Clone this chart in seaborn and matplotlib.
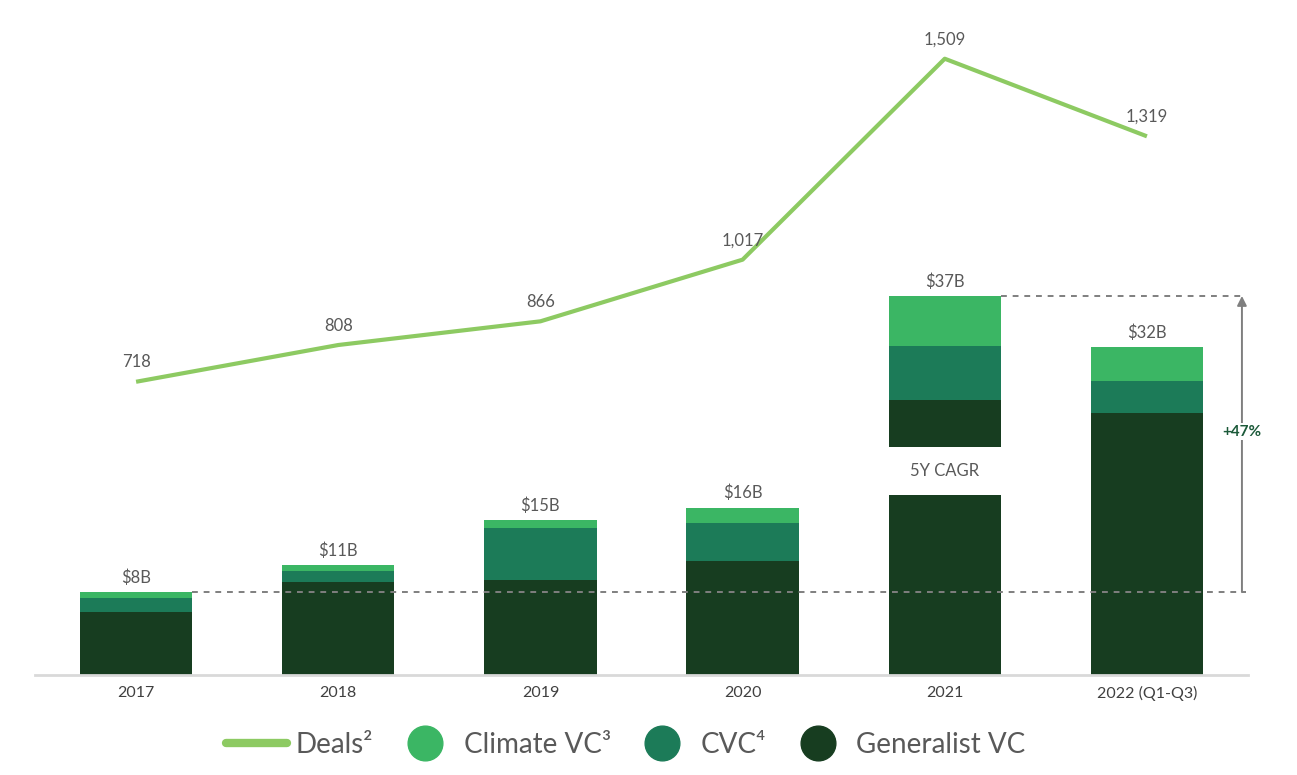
import numpy as np
import pandas as pd
import matplotlib
matplotlib.use("Agg")
import matplotlib.pyplot as plt
from matplotlib.lines import Line2D
import seaborn as sns

# Dados (em $B)
anos = ["2017", "2018", "2019", "2020", "2021", "2022 (Q1-Q3)"]
generalist_vc = [6.1, 9.0, 9.2, 11.1, 26.7, 25.4]
cvc = [1.35, 1.07, 5.05, 3.7, 5.25, 3.1]
climate_vc = [0.6, 0.6, 0.8, 1.45, 4.85, 3.3]
rotulos_total = ["$8B", "$11B", "$15B", "$16B", "$37B", "$32B"]
deals = [718, 808, 866, 1017, 1509, 1319]
rotulos_deals = ["718", "808", "866", "1,017", "1,509", "1,319"]
cagr_texto = "+47%"
# faixa branca no meio da barra de 2021 ($B)
gap_2021 = (17.5, 22.1)

cor_climate = "#3bb664"
cor_cvc = "#1c7b58"
cor_generalist = "#173d20"
cor_deals = "#8dca62"
cor_texto = "#595959"

sns.set_style("white")
plt.rcParams["font.family"] = ["Lato", "DejaVu Sans"]

df = pd.DataFrame({"ano": anos, "gen": generalist_vc, "cvc": cvc, "climate": climate_vc})
df["gen_cvc"] = df["gen"] + df["cvc"]
df["total"] = df["gen_cvc"] + df["climate"]

fig = plt.figure(figsize=(12.97, 7.75), dpi=100)
ax = fig.add_axes([35 / 1297, 100 / 775, (1248 - 35) / 1297, 655 / 775])

largura = 0.555
sns.barplot(data=df, x="ano", y="total", color=cor_climate, width=largura, ax=ax, saturation=1)
sns.barplot(data=df, x="ano", y="gen_cvc", color=cor_cvc, width=largura, ax=ax, saturation=1)
sns.barplot(data=df, x="ano", y="gen", color=cor_generalist, width=largura, ax=ax, saturation=1)
for p in ax.patches:
    p.set_linewidth(0)

ax.set_xlim(-0.5, 5.5)
ax.set_ylim(0, 655 / 10.3)

# faixa branca + "5Y CAGR"
i21 = anos.index("2021")
ax.bar(i21, gap_2021[1] - gap_2021[0], bottom=gap_2021[0], width=largura + 0.02,
       color="white", linewidth=0, zorder=3)
ax.text(i21, sum(gap_2021) / 2, "5Y CAGR", ha="center", va="center",
        fontsize=12, color=cor_texto, zorder=4)

# rótulos dos totais
for i, (t, r) in enumerate(zip(df["total"], rotulos_total)):
    ax.text(i, t + 0.6, r, ha="center", va="bottom", fontsize=12, color=cor_texto)

# linhas tracejadas e seta do CAGR
x_fim = 5.49
ax.hlines(df["total"][0], 0 + largura / 2, x_fim, colors="#7f7f7f", linestyles=(0, (3, 3)), lw=1.4)
ax.hlines(df["total"][i21], i21 + largura / 2, x_fim, colors="#7f7f7f", linestyles=(0, (3, 3)), lw=1.4)
x_seta = 5.47
ax.annotate("", xy=(x_seta, df["total"][i21]), xytext=(x_seta, df["total"][0]),
            arrowprops=dict(arrowstyle="-|>", color="#7f7f7f", lw=1.4, mutation_scale=14,
                            shrinkA=0, shrinkB=0))
ax.text(x_seta, (df["total"][0] + df["total"][i21]) / 2 + 1.2, cagr_texto, ha="center", va="center",
        fontsize=11, color="#1c5a3a", fontweight="bold",
        bbox=dict(facecolor="white", edgecolor="none", pad=1))

# linha de deals (eixo secundário)
ax2 = ax.twinx()
sns.lineplot(x=np.arange(len(anos)), y=deals, color=cor_deals, lw=3.0, ax=ax2,
             solid_capstyle="butt")
ax2.set_ylim(0, 655 / 0.4084)
for i, (v, r) in enumerate(zip(deals, rotulos_deals)):
    ax2.text(i, v + 28, r, ha="center", va="bottom", fontsize=12, color=cor_texto)

for a in (ax, ax2):
    for s in ["top", "right", "left"]:
        a.spines[s].set_visible(False)
    a.set_yticks([])
    a.set_ylabel("")
ax.spines["bottom"].set_color("#d9d9d9")
ax.spines["bottom"].set_linewidth(2)
ax2.spines["bottom"].set_visible(False)
ax.set_xlabel("")
ax.tick_params(axis="x", length=0, pad=8, labelsize=11.5, labelcolor="#404040")

# legenda
handles = [
    Line2D([], [], color=cor_deals, lw=6),
    Line2D([], [], marker="o", ls="none", markersize=25, color=cor_climate),
    Line2D([], [], marker="o", ls="none", markersize=25, color=cor_cvc),
    Line2D([], [], marker="o", ls="none", markersize=25, color=cor_generalist),
]
labels = ["Deals²", "Climate VC³", "CVC⁴", "Generalist VC"]
leg = fig.legend(handles, labels, loc="center", bbox_to_anchor=(626 / 1297, 1 - 745 / 775),
                 ncol=4, frameon=False, fontsize=20, handlelength=2.2, handletextpad=0.3,
                 columnspacing=0.75)
for t in leg.get_texts():
    t.set_color(cor_texto)

fig.savefig("out.png", dpi=100)
